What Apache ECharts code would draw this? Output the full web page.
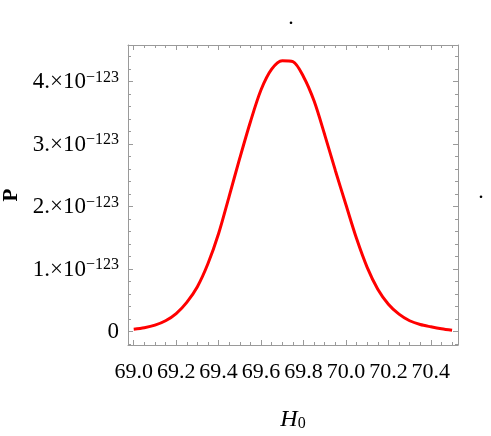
<!DOCTYPE html>
<html>
<head>
<meta charset="utf-8">
<script src="https://cdn.jsdelivr.net/npm/echarts@6/dist/echarts.min.js"></script>
<style>
html,body{margin:0;padding:0;background:#ffffff;}
#chart{width:491px;height:436px;}
</style>
</head>
<body>
<div id="chart"></div>
<script>
// H0 sample points (x) and probability values P (in units of 1e-123)
const h0Values = [69.00, 69.05, 69.10, 69.15, 69.20, 69.25, 69.30, 69.35, 69.40, 69.45,
                  69.50, 69.55, 69.60, 69.65, 69.70, 69.75, 69.80, 69.85, 69.90, 69.95,
                  70.00, 70.05, 70.10, 70.15, 70.20, 70.25, 70.30, 70.35, 70.40, 70.45, 70.50];
const pValues  = [0.040, 0.064, 0.105, 0.175, 0.290, 0.470, 0.720, 1.090, 1.570, 2.170,
                  2.780, 3.360, 3.870, 4.200, 4.335, 4.320, 4.080, 3.690, 3.150, 2.580,
                  2.030, 1.490, 1.030, 0.680, 0.440, 0.280, 0.175, 0.115, 0.078, 0.046, 0.022];
const pExponent = '\u2212123';

// Axis ticks
const xTickValues = [69.0, 69.2, 69.4, 69.6, 69.8, 70.0, 70.2, 70.4];
const xTickLabels = ['69.0', '69.2', '69.4', '69.6', '69.8', '70.0', '70.2', '70.4'];
const xMinorTicks = [69.00, 69.05, 69.10, 69.15, 69.20, 69.25, 69.30, 69.35, 69.40, 69.45,
                     69.50, 69.55, 69.60, 69.65, 69.70, 69.75, 69.80, 69.85, 69.90, 69.95,
                     70.00, 70.05, 70.10, 70.15, 70.20, 70.25, 70.30, 70.35, 70.40, 70.45, 70.50];
const yTickValues = [0, 1, 2, 3, 4];
const yTickLabels = ['0', '1.', '2.', '3.', '4.'];
const yMinorTicks = [-0.2, 0, 0.2, 0.4, 0.6, 0.8, 1.0, 1.2, 1.4, 1.6, 1.8, 2.0, 2.2, 2.4,
                     2.6, 2.8, 3.0, 3.2, 3.4, 3.6, 3.8, 4.0, 4.2, 4.4];
const xRange = [68.973, 70.528];
const yRange = [-0.213, 4.587];

const FONT = 'Liberation Serif';
const FRAME = '#9a9a9a';

const gridBox = {left: 128, top: 45, right: 33, bottom: 91, containLabel: false, outerBoundsMode: 'none'};

function xAxisDef(grid, pos, ticks, len, showLine, labels) {
  return {
    type: 'value', gridIndex: grid, position: pos, min: xRange[0], max: xRange[1],
    axisLine: {show: showLine, onZero: false, lineStyle: {color: FRAME, width: 1}},
    axisTick: {show: true, inside: true, length: len, customValues: ticks, lineStyle: {color: FRAME, width: 1}},
    axisLabel: labels ? {
      show: true, customValues: xTickValues, margin: 16, color: '#000',
      fontFamily: FONT, fontSize: 22, hideOverlap: false,
      formatter: v => xTickLabels[xTickValues.indexOf(v)]
    } : {show: false},
    splitLine: {show: false}
  };
}
function yAxisDef(grid, pos, ticks, len, showLine, labels) {
  return {
    type: 'value', gridIndex: grid, position: pos, min: yRange[0], max: yRange[1],
    axisLine: {show: showLine, onZero: false, lineStyle: {color: FRAME, width: 1}},
    axisTick: {show: true, inside: true, length: len, customValues: ticks, lineStyle: {color: FRAME, width: 1}},
    axisLabel: labels ? {
      show: true, customValues: yTickValues, margin: 9, color: '#000',
      fontFamily: FONT, fontSize: 23, hideOverlap: false,
      formatter: v => {
        const t = yTickLabels[yTickValues.indexOf(v)];
        return v === 0 ? '{m|' + t + '}' : '{m|' + t + '\u00d710}{e|' + pExponent + '}';
      },
      rich: {
        m: {fontFamily: FONT, fontSize: 23, color: '#000', lineHeight: 24, verticalAlign: 'bottom'},
        e: {fontFamily: FONT, fontSize: 16, color: '#000', lineHeight: 24, verticalAlign: 'top'}
      }
    } : {show: false},
    splitLine: {show: false}
  };
}

const xMain = xAxisDef(0, 'bottom', xTickValues, 5, true, true);
xMain.name = '{h|H}{s|0}';
xMain.nameLocation = 'middle';
xMain.nameGap = 61;
xMain.nameTextStyle = {
  rich: {
    h: {fontFamily: FONT, fontStyle: 'italic', fontSize: 24, color: '#000', verticalAlign: 'bottom', lineHeight: 26},
    s: {fontFamily: FONT, fontSize: 16, color: '#000', verticalAlign: 'bottom', lineHeight: 20}
  }
};
const yMain = yAxisDef(0, 'left', yTickValues, 5, true, true);
yMain.name = 'P';
yMain.nameLocation = 'middle';
yMain.nameRotate = 90;
yMain.nameGap = 104;
yMain.nameTextStyle = {fontFamily: FONT, fontWeight: 'bold', fontSize: 21, color: '#000'};

const chart = echarts.init(document.getElementById('chart'), null, {renderer: 'canvas'});
chart.setOption({
  animation: false,
  backgroundColor: '#ffffff',
  grid: [Object.assign({}, gridBox), Object.assign({}, gridBox)],
  xAxis: [
    xMain,
    xAxisDef(0, 'top', xTickValues, 5, true, false),
    xAxisDef(1, 'bottom', xMinorTicks, 3, false, false),
    xAxisDef(1, 'top', xMinorTicks, 3, false, false)
  ],
  yAxis: [
    yMain,
    yAxisDef(0, 'right', yTickValues, 5, true, false),
    yAxisDef(1, 'left', yMinorTicks, 3, false, false),
    yAxisDef(1, 'right', yMinorTicks, 3, false, false)
  ],
  graphic: [
    {type: 'text', x: 291, y: 29, style: {text: '.', font: '22px "Liberation Serif"', fill: '#000', textAlign: 'center', textVerticalAlign: 'bottom'}},
    {type: 'text', x: 481, y: 203, style: {text: '.', font: '22px "Liberation Serif"', fill: '#000', textAlign: 'center', textVerticalAlign: 'bottom'}}
  ],
  series: [{
    type: 'line',
    xAxisIndex: 0, yAxisIndex: 0,
    data: h0Values.map((x, i) => [x, pValues[i]]),
    showSymbol: false,
    smooth: 0.3,
    lineStyle: {color: '#ff0000', width: 3},
    itemStyle: {color: '#ff0000'},
    clip: true
  }]
});
</script>
</body>
</html>
